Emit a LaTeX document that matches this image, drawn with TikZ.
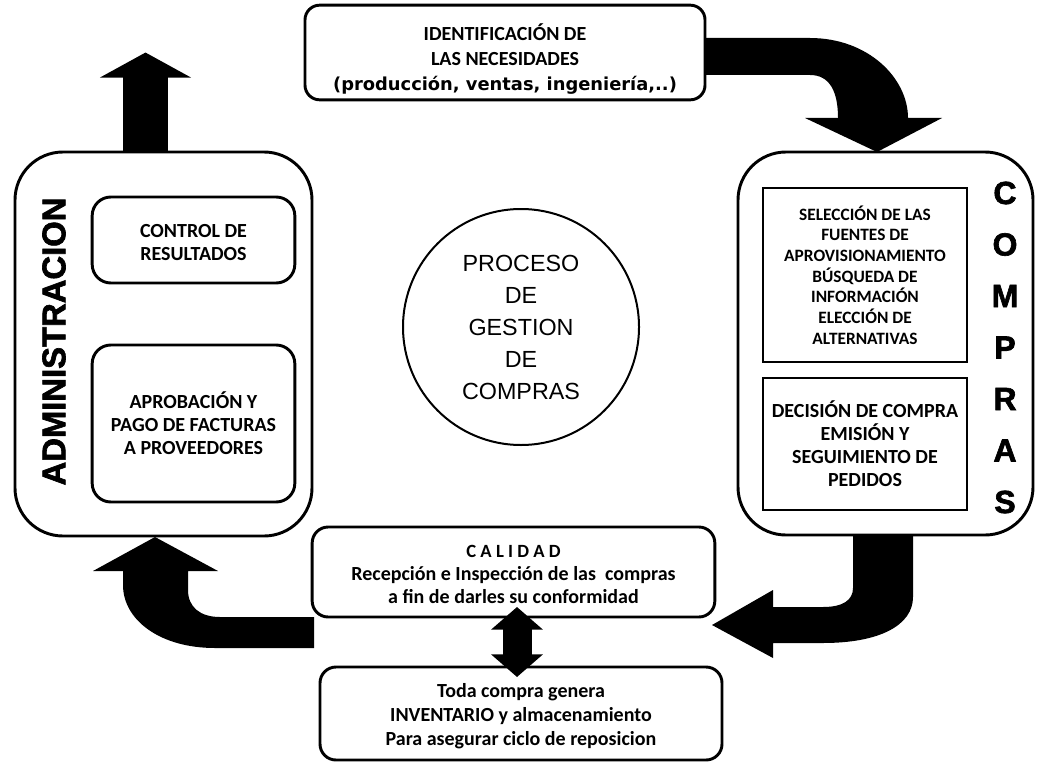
\documentclass[tikz,border=0pt]{standalone}
\usepackage{fontspec}
\setmainfont{Carlito}
\newfontfamily\verdfont{DejaVu Sans}
\newfontfamily\arialfont{Liberation Sans}
\newfontfamily\blackfont{Liberation Sans Bold}[FakeBold=2]
\usetikzlibrary{arrows.meta,positioning}

\tikzset{
  bigbox/.style={draw,line width=2.2pt,rounded corners=36pt,fill=white,inner sep=0pt},
  roundbox/.style={draw,line width=2.2pt,rounded corners=12pt,fill=white,align=center,inner sep=0pt},
  sharpbox/.style={draw,line width=2.2pt,fill=white,align=center,inner sep=0pt},
  boxfont/.style={font=\bfseries\fontsize{15}{17.25}\selectfont},
  textonly/.style={align=center,inner sep=0pt},
  bigletter/.style={font=\blackfont\fontsize{24}{24}\selectfont,inner sep=0pt},
  blockarrow/.style={fill=black},
}

\begin{document}
\begin{tikzpicture}[x=0.75pt,y=-0.75pt]
  \useasboundingbox (0,0) rectangle (1037,763);

  % curved block arrows
  \fill[blockarrow] (703,38) -- (810,38) .. controls (868,38) and (908,78) .. (908,118)
    -- (942,118) -- (877,152) -- (805,118) -- (838,118)
    .. controls (838,92) and (830,75) .. (810,75) -- (703,75) -- cycle;
  \fill[blockarrow] (853,532) -- (853,588) .. controls (853,600) and (843,607) .. (823,607)
    -- (773,607) -- (773,590) -- (712,625) -- (773,658) -- (773,643) -- (823,643)
    .. controls (880,643) and (913,625) .. (913,597) -- (913,532) -- cycle;
  \fill[blockarrow] (155,537) -- (218,571) -- (188,571) -- (188,590)
    .. controls (188,607) and (200,617) .. (220,617) -- (314,617) -- (314,648) -- (215,648)
    .. controls (160,648) and (123,620) .. (123,585) -- (123,571) -- (93,571) -- cycle;

  % boxes
  \node[roundbox,rounded corners=11pt,minimum width=300pt,minimum height=71pt] (necesidades) at (505,52.5) {};
  \node[textonly,font=\bfseries\fontsize{15}{18.75}\selectfont] (necesidadestxt) at (505,59)
    {IDENTIFICACIÓN DE\\LAS NECESIDADES\\{\verdfont\bfseries\fontsize{13.4}{18.75}\selectfont(producción, ventas, ingeniería,..)}};

  \node[bigbox,minimum width=222.75pt,minimum height=288pt] (admin) at (163.5,344) {};
  \node[roundbox,rounded corners=14pt,minimum width=152pt,minimum height=64.5pt] (control) at (193.5,240) {};
  \node[textonly,boxfont] (controltxt) at (193.5,243) {CONTROL DE\\RESULTADOS};
  \node[roundbox,boxfont,rounded corners=14pt,minimum width=152pt,minimum height=117.75pt] (aprobacion) at (193.5,423.5)
    {APROBACIÓN Y\\PAGO DE FACTURAS\\A PROVEEDORES};
  \node[bigletter,rotate=90,font=\blackfont\fontsize{24.6}{24.6}\selectfont] (admintitle) at (54,341.5) {ADMINISTRACION};

  \node[bigbox,minimum width=221.25pt,minimum height=287.25pt] (compras) at (885.5,343.5) {};
  \node[sharpbox,font=\bfseries\fontsize{13}{15.5}\selectfont,minimum width=153pt,minimum height=130.5pt] (seleccion) at (865,275)
    {SELECCIÓN DE LAS\\FUENTES DE\\APROVISIONAMIENTO\\BÚSQUEDA DE\\INFORMACIÓN\\ELECCIÓN DE\\ALTERNATIVAS};
  \node[sharpbox,boxfont,minimum width=153pt,minimum height=99pt] (decision) at (865,444)
    {DECISIÓN DE COMPRA\\EMISIÓN Y\\SEGUIMIENTO DE\\PEDIDOS};
  \foreach \ch [count=\i from 0] in {C,O,M,P,R,A,S}
    \node[bigletter] (letra\i) at (1005,{193+51.5*\i}) {\ch};

  \node[circle,draw,line width=1.5pt,minimum size=177pt,align=center,
        font=\arialfont\fontsize{17.5}{24}\selectfont] (proceso) at (521,327)
    {PROCESO\\DE\\GESTION\\DE\\COMPRAS};

  \node[roundbox,minimum width=302pt,minimum height=67.5pt] (calidad) at (513.5,572) {};
  \node[textonly,boxfont] (calidadtxt) at (513.5,574.5)
    {{\fontsize{14}{17.25}\selectfont C A L I D A D}\\Recepción e Inspección de las~ compras\\a fin de darles su conformidad};
  \node[roundbox,minimum width=301.5pt,minimum height=69.75pt] (inventario) at (521,713.5) {};
  \node[textonly,font=\bfseries\fontsize{15}{18}\selectfont] (inventariotxt) at (521,716)
    {Toda compra genera\\INVENTARIO y almacenamiento\\Para asegurar ciclo de reposicion};

  % straight arrows
  \draw[line width=33.75pt,-{Triangle[width=67.5pt,length=18.75pt]}]
    ([xshift=-13.5pt]admin.north) -- ++(0,-98);
  \coordinate (dtop) at (517,607);
  \coordinate (dbot) at (517,677);
  \draw[line width=21.75pt,{Triangle[width=38pt,length=17pt]}-{Triangle[width=38pt,length=17pt]}]
    (dtop) -- (dbot);
\end{tikzpicture}
\end{document}
